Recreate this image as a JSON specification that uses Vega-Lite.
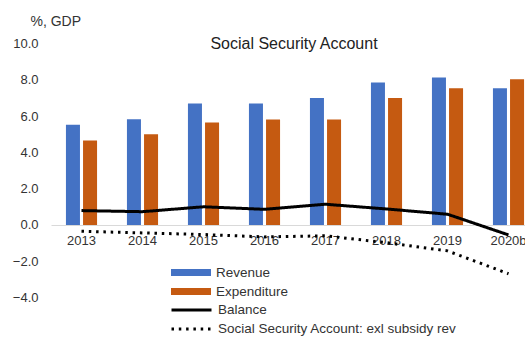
{
  "$schema": "https://vega.github.io/schema/vega-lite/v6.json",
  "width": 474,
  "height": 254,
  "autosize": {"type": "none"},
  "padding": {"left": 51, "top": 43.5, "right": 0, "bottom": 40.5},
  "background": "white",
  "config": {"view": {"stroke": null}, "font": "Liberation Sans", "axis": {"labelOverlap": false}},
  "title": {
    "text": "Social Security Account",
    "fontSize": 16,
    "fontWeight": "normal",
    "color": "#222",
    "font": "Liberation Sans",
    "anchor": "middle",
    "dx": 6,
    "baseline": "alphabetic",
    "offset": -51,
    "frame": "group"
  },
  "datasets": {
    "bars": [
      {"year": "2013", "series": "Revenue", "value": 5.52},
      {"year": "2013", "series": "Expenditure", "value": 4.65},
      {"year": "2014", "series": "Revenue", "value": 5.83},
      {"year": "2014", "series": "Expenditure", "value": 5.0},
      {"year": "2015", "series": "Revenue", "value": 6.69},
      {"year": "2015", "series": "Expenditure", "value": 5.65},
      {"year": "2016", "series": "Revenue", "value": 6.69},
      {"year": "2016", "series": "Expenditure", "value": 5.81},
      {"year": "2017", "series": "Revenue", "value": 6.99},
      {"year": "2017", "series": "Expenditure", "value": 5.81},
      {"year": "2018", "series": "Revenue", "value": 7.85},
      {"year": "2018", "series": "Expenditure", "value": 7.0},
      {"year": "2019", "series": "Revenue", "value": 8.13},
      {"year": "2019", "series": "Expenditure", "value": 7.54},
      {"year": "2020b", "series": "Revenue", "value": 7.54},
      {"year": "2020b", "series": "Expenditure", "value": 8.03}
    ],
    "lines": [
      {"year": "2013", "series": "Balance", "value": 0.79},
      {"year": "2014", "series": "Balance", "value": 0.73},
      {"year": "2015", "series": "Balance", "value": 1.0},
      {"year": "2016", "series": "Balance", "value": 0.86},
      {"year": "2017", "series": "Balance", "value": 1.14},
      {"year": "2018", "series": "Balance", "value": 0.88},
      {"year": "2019", "series": "Balance", "value": 0.59},
      {"year": "2020b", "series": "Balance", "value": -0.55},
      {"year": "2013", "series": "Social Security Account: exl subsidy rev", "value": -0.35},
      {"year": "2014", "series": "Social Security Account: exl subsidy rev", "value": -0.44},
      {"year": "2015", "series": "Social Security Account: exl subsidy rev", "value": -0.53},
      {"year": "2016", "series": "Social Security Account: exl subsidy rev", "value": -0.66},
      {"year": "2017", "series": "Social Security Account: exl subsidy rev", "value": -0.6},
      {"year": "2018", "series": "Social Security Account: exl subsidy rev", "value": -0.98},
      {"year": "2019", "series": "Social Security Account: exl subsidy rev", "value": -1.43},
      {"year": "2020b", "series": "Social Security Account: exl subsidy rev", "value": -2.69}
    ]
  },
  "layer": [
    {
      "data": {"name": "bars"},
      "mark": {"type": "bar"},
      "encoding": {
        "x": {
          "field": "year",
          "type": "nominal",
          "sort": null,
          "scale": {"range": [0, 488], "paddingInner": 0.49, "paddingOuter": 0.245},
          "axis": {
            "title": null,
            "offset": -72.5,
            "ticks": false,
            "tickSize": 0,
            "labelPadding": 9,
            "labelFontSize": 13,
            "labelColor": "#333",
            "labelFont": "Liberation Sans",
            "labelAngle": 0,
            "labelOverlap": false,
            "domainColor": "#d9d9d9",
            "domainWidth": 1,
            "grid": false
          }
        },
        "xOffset": {
          "field": "series",
          "sort": ["Revenue", "Expenditure"],
          "scale": {"paddingInner": 0.18, "paddingOuter": 0}
        },
        "y": {
          "field": "value",
          "type": "quantitative",
          "scale": {"domain": [-4, 10], "nice": false, "zero": false},
          "axis": {
            "title": "%, GDP",
            "titleAngle": 0,
            "titleAlign": "left",
            "titleBaseline": "alphabetic",
            "titleX": -21,
            "titleY": -18.5,
            "titleFontSize": 14,
            "titleFontWeight": "normal",
            "titleColor": "#333",
            "titleFont": "Liberation Sans",
            "domain": false,
            "ticks": false,
            "tickSize": 0,
            "labelPadding": 13,
            "grid": false,
            "values": [-4, -2, 0, 2, 4, 6, 8, 10],
            "tickCount": 8,
            "labelOverlap": false,
            "labelSeparation": 0,
            "format": ".1f",
            "labelFontSize": 13,
            "labelColor": "#333",
            "labelFont": "Liberation Sans"
          }
        },
        "color": {
          "field": "series",
          "type": "nominal",
          "scale": {"domain": ["Revenue", "Expenditure"], "range": ["#4472C4", "#C55A11"]},
          "legend": {
            "orient": "none",
            "legendX": 120,
            "legendY": 221,
            "title": null,
            "symbolType": "M-1,-0.17L1,-0.17L1,0.17L-1,0.17Z",
            "symbolSize": 1600,
            "symbolStrokeWidth": 0,
            "symbolOpacity": 1,
            "labelFontSize": 13.5,
            "labelColor": "#333",
            "labelFont": "Liberation Sans",
            "labelOffset": 5,
            "labelLimit": 400,
            "rowPadding": 3,
            "clipHeight": 16,
            "padding": 0
          }
        }
      }
    },
    {
      "data": {"name": "lines"},
      "mark": {"type": "line", "color": "black", "strokeWidth": 3},
      "encoding": {
        "x": {"field": "year", "type": "nominal", "sort": null},
        "y": {
          "field": "value",
          "type": "quantitative",
          "axis": {
            "title": "%, GDP",
            "titleAngle": 0,
            "titleAlign": "left",
            "titleBaseline": "alphabetic",
            "titleX": -21,
            "titleY": -18.5,
            "titleFontSize": 14,
            "titleFontWeight": "normal",
            "titleColor": "#333",
            "titleFont": "Liberation Sans",
            "domain": false,
            "ticks": false,
            "tickSize": 0,
            "labelPadding": 13,
            "grid": false,
            "values": [-4, -2, 0, 2, 4, 6, 8, 10],
            "tickCount": 8,
            "labelOverlap": false,
            "labelSeparation": 0,
            "format": ".1f",
            "labelFontSize": 13,
            "labelColor": "#333",
            "labelFont": "Liberation Sans"
          }
        },
        "strokeDash": {
          "field": "series",
          "type": "nominal",
          "scale": {
            "domain": ["Balance", "Social Security Account: exl subsidy rev"],
            "range": [[1, 0], [2.5, 4.8]]
          },
          "legend": {
            "orient": "none",
            "legendX": 119,
            "legendY": 258.5,
            "title": null,
            "symbolType": "stroke",
            "symbolSize": 1600,
            "symbolStrokeWidth": 3,
            "symbolStrokeColor": "black",
            "labelFontSize": 13.5,
            "labelColor": "#333",
            "labelFont": "Liberation Sans",
            "labelOffset": 5,
            "labelLimit": 400,
            "rowPadding": 3,
            "clipHeight": 16,
            "padding": 0
          }
        }
      }
    }
  ]
}
